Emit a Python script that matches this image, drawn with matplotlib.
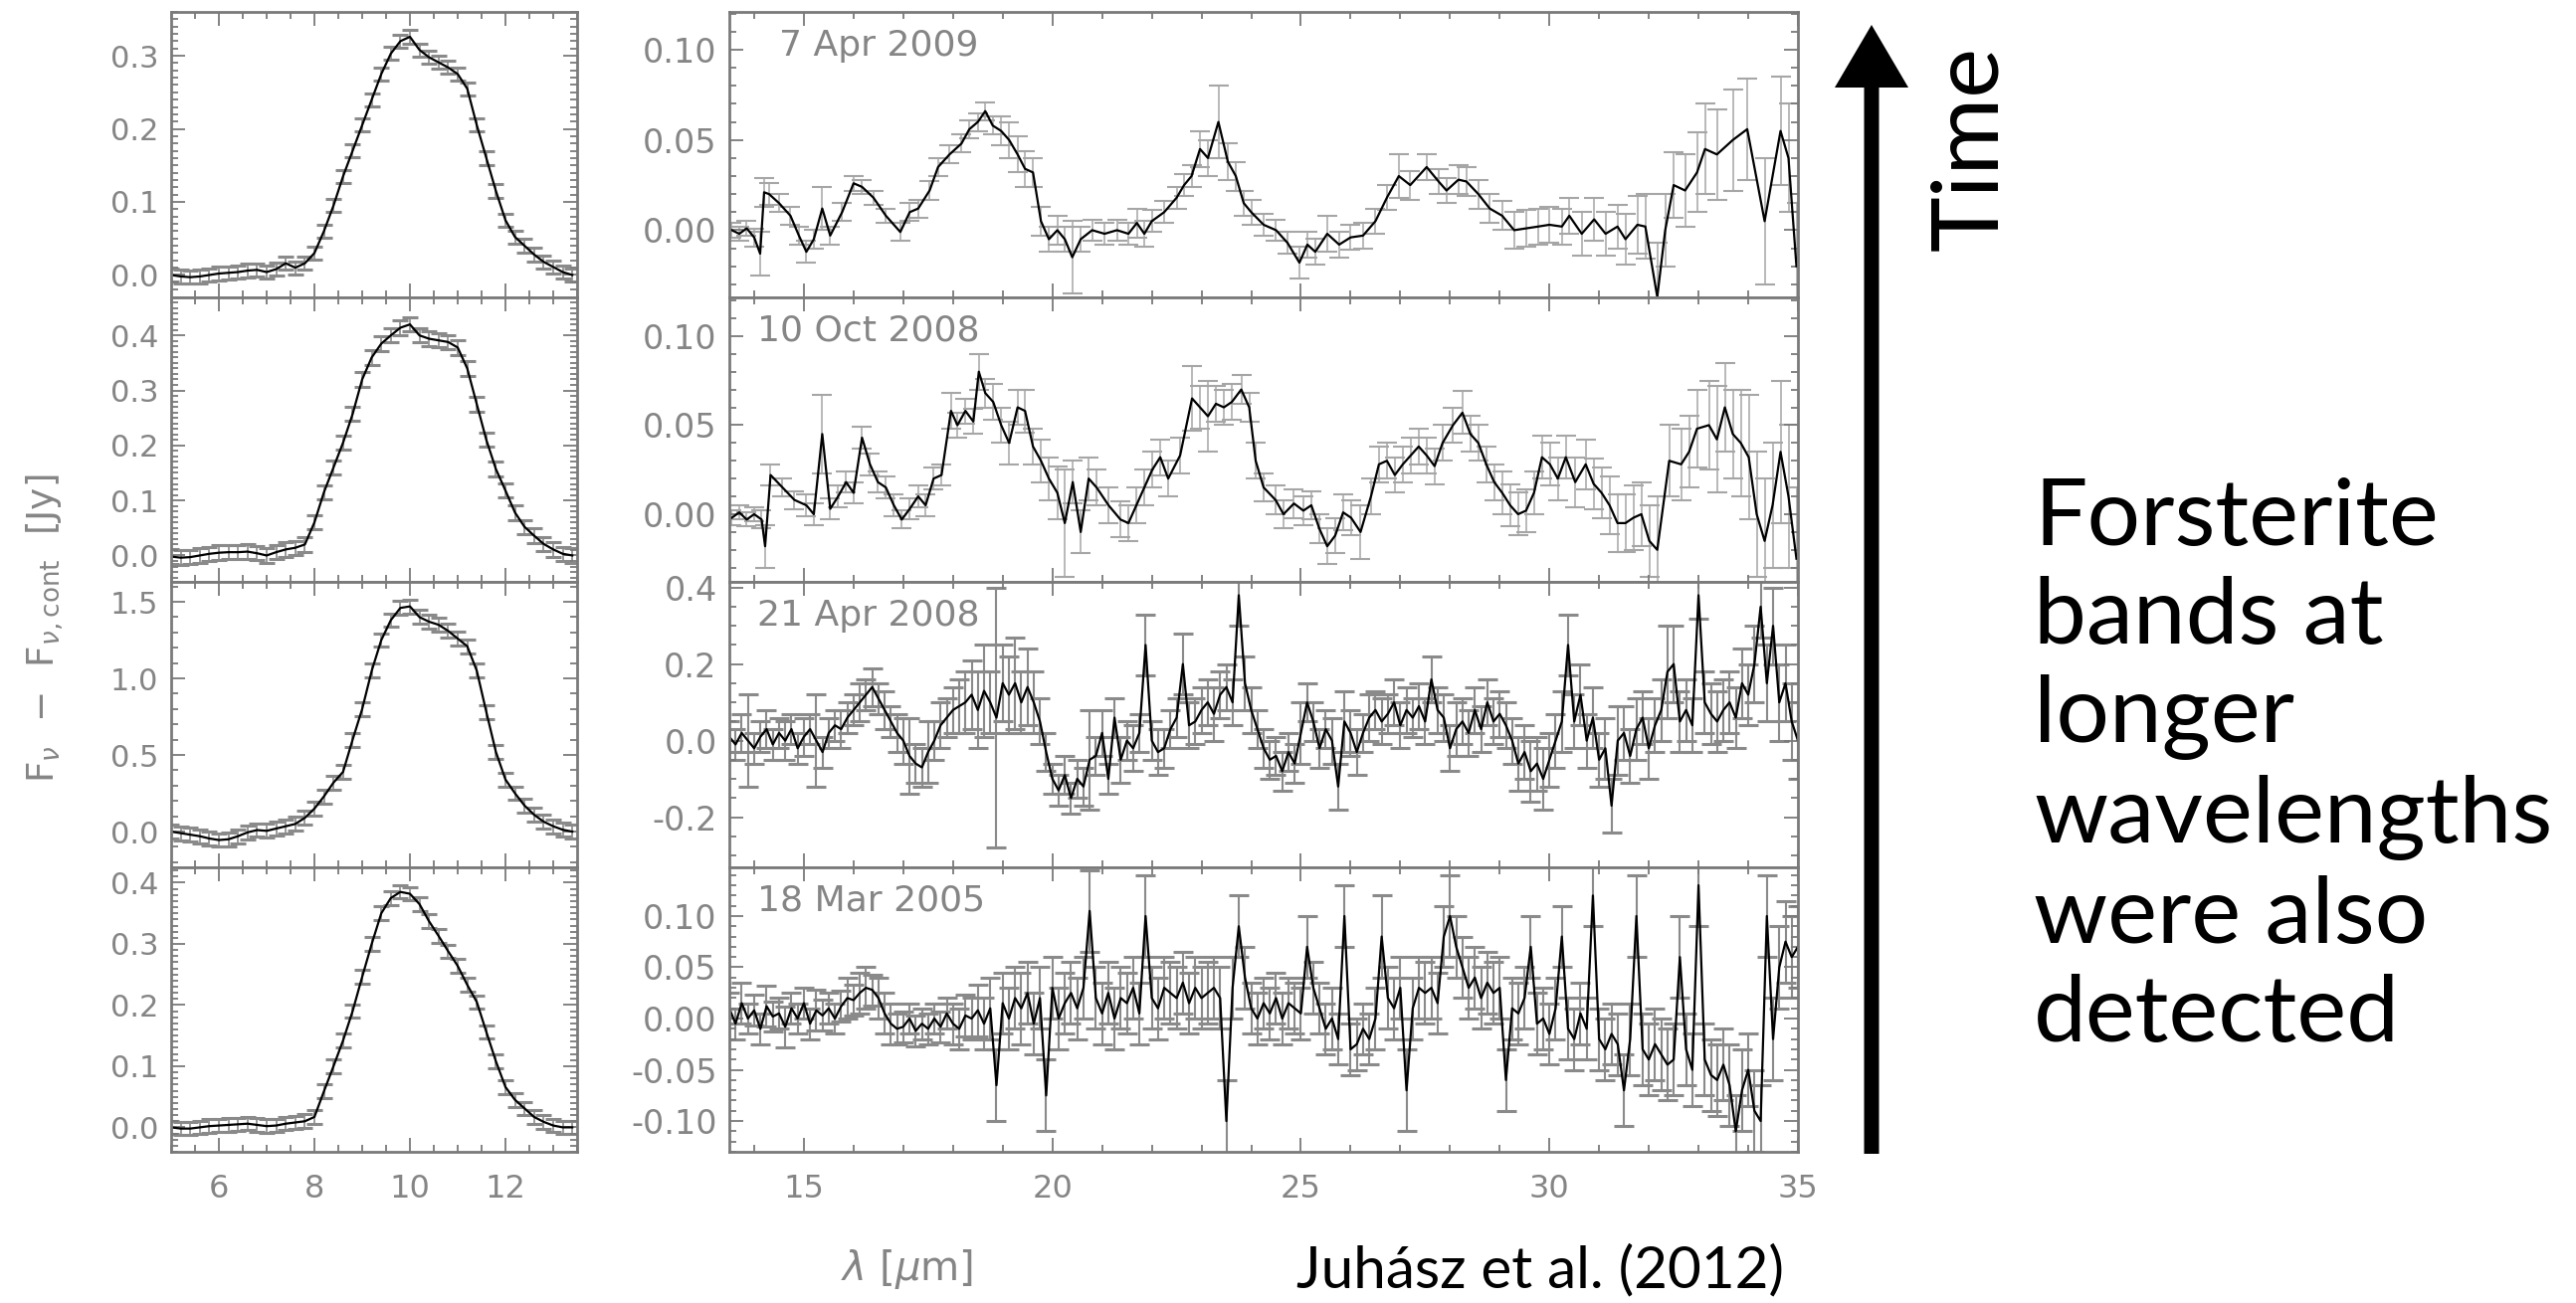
import matplotlib
matplotlib.use('Agg')
import matplotlib.pyplot as plt
import numpy as np
from matplotlib.ticker import MultipleLocator, FormatStrFormatter
from matplotlib.patches import FancyArrow

plt.rcParams['font.family'] = 'DejaVu Sans'
plt.rcParams['mathtext.fontset'] = 'dejavusans'

# ---------------- data ----------------
epochs = ['7 Apr 2009', '10 Oct 2008', '21 Apr 2008', '18 Mar 2005']

# 10 micron feature (left column), sampled every 0.2 um from 5.0 to 13.4
lam_short = np.round(np.arange(5.0, 13.41, 0.2), 1)

flux_short_apr09 = [0.0, -0.002, -0.003, -0.002, 0.0, 0.002, 0.003, 0.004, 0.006, 0.007,
                    0.004, 0.008, 0.016, 0.01, 0.016, 0.03, 0.06, 0.095, 0.135, 0.17,
                    0.205, 0.24, 0.275, 0.303, 0.32, 0.326, 0.308, 0.298, 0.291, 0.284,
                    0.275, 0.255, 0.205, 0.16, 0.115, 0.075, 0.052, 0.04, 0.028, 0.018,
                    0.011, 0.004, 0.0]
flux_short_oct08 = [-0.002, -0.004, -0.003, 0.0, 0.003, 0.005, 0.006, 0.006, 0.007, 0.004,
                    0.0, 0.006, 0.011, 0.014, 0.02, 0.06, 0.115, 0.16, 0.205, 0.257,
                    0.32, 0.36, 0.385, 0.4, 0.414, 0.42, 0.4, 0.394, 0.391, 0.388,
                    0.378, 0.34, 0.275, 0.21, 0.157, 0.118, 0.078, 0.052, 0.036, 0.021,
                    0.011, 0.003, 0.0]
flux_short_apr08 = [0.0, -0.01, -0.02, -0.03, -0.045, -0.055, -0.05, -0.03, -0.005, 0.01,
                    0.005, 0.02, 0.035, 0.05, 0.09, 0.15, 0.23, 0.32, 0.39, 0.6,
                    0.8, 1.05, 1.25, 1.38, 1.46, 1.47, 1.4, 1.37, 1.35, 1.31,
                    1.26, 1.21, 1.05, 0.78, 0.52, 0.34, 0.25, 0.17, 0.11, 0.065,
                    0.035, 0.012, 0.0]
flux_short_mar05 = [0.0, -0.002, -0.002, 0.0, 0.002, 0.003, 0.004, 0.005, 0.006, 0.004,
                    0.002, 0.003, 0.006, 0.008, 0.01, 0.017, 0.059, 0.1, 0.142, 0.19,
                    0.246, 0.3, 0.35, 0.375, 0.385, 0.382, 0.365, 0.337, 0.313, 0.288,
                    0.264, 0.233, 0.205, 0.156, 0.108, 0.066, 0.045, 0.031, 0.017, 0.009,
                    0.003, 0.0, 0.0]
err_short = [0.009, 0.013, 0.045, 0.011]

# long wavelength residuals, 7 Apr 2009
lam_long_apr09 = [13.55, 13.7, 13.85, 14.0, 14.12, 14.2, 14.3, 14.5, 14.73, 14.9,
                  15.05, 15.2, 15.37, 15.53, 15.77, 16.0, 16.17, 16.4, 16.65, 16.94,
                  17.13, 17.3, 17.53, 17.7, 17.93, 18.17, 18.33, 18.5, 18.65, 18.8,
                  18.97, 19.13, 19.3, 19.45, 19.61, 19.77, 19.93, 20.1, 20.25, 20.4,
                  20.57, 20.8, 21.05, 21.3, 21.53, 21.7, 21.85, 22.0, 22.25, 22.5,
                  22.65, 22.8, 22.97, 23.13, 23.34, 23.53, 23.69, 23.85, 24.0, 24.25,
                  24.5, 24.73, 24.97, 25.13, 25.29, 25.53, 25.77, 26.0, 26.25, 26.5,
                  26.73, 26.97, 27.2, 27.53, 27.77, 27.93, 28.17, 28.33, 28.57, 28.8,
                  29.05, 29.29, 29.53, 29.77, 30.0, 30.25, 30.4, 30.65, 30.9, 31.13,
                  31.37, 31.53, 31.77, 31.93, 32.17, 32.33, 32.5, 32.73, 32.97, 33.13,
                  33.37, 33.69, 33.98, 34.33, 34.65, 34.81, 34.97]
flux_long_apr09 = [0.0, -0.002, 0.001, -0.004, -0.013, 0.021, 0.02, 0.015, 0.008, -0.003,
                   -0.012, -0.005, 0.012, -0.003, 0.01, 0.026, 0.024, 0.018, 0.008, -0.001,
                   0.01, 0.012, 0.022, 0.035, 0.042, 0.048, 0.056, 0.06, 0.066, 0.058,
                   0.055, 0.05, 0.042, 0.034, 0.032, 0.005, -0.005, 0.0, -0.005, -0.015,
                   -0.005, 0.0, -0.002, 0.0, -0.002, 0.004, -0.002, 0.005, 0.01, 0.018,
                   0.025, 0.03, 0.045, 0.04, 0.06, 0.038, 0.03, 0.015, 0.01, 0.003,
                   0.0, -0.007, -0.018, -0.008, -0.012, -0.002, -0.008, -0.004, -0.003, 0.005,
                   0.018, 0.03, 0.025, 0.035, 0.027, 0.022, 0.028, 0.027, 0.02, 0.012,
                   0.008, 0.0, 0.001, 0.002, 0.003, 0.002, 0.008, -0.002, 0.006, -0.002,
                   0.002, -0.005, 0.003, 0.002, -0.037, 0.0, 0.025, 0.022, 0.032, 0.045,
                   0.042, 0.05, 0.056, 0.005, 0.055, 0.04, -0.02]
err_long_apr09 = [0.004, 0.004, 0.004, 0.005, 0.012, 0.008, 0.006, 0.005, 0.005, 0.005,
                  0.006, 0.005, 0.012, 0.005, 0.005, 0.004, 0.004, 0.004, 0.004, 0.005,
                  0.005, 0.005, 0.005, 0.005, 0.005, 0.005, 0.005, 0.005, 0.005, 0.005,
                  0.008, 0.01, 0.01, 0.01, 0.008, 0.008, 0.007, 0.008, 0.007, 0.02,
                  0.007, 0.006, 0.006, 0.006, 0.006, 0.008, 0.007, 0.006, 0.006, 0.006,
                  0.006, 0.006, 0.01, 0.01, 0.02, 0.01, 0.008, 0.007, 0.007, 0.006,
                  0.006, 0.006, 0.009, 0.007, 0.007, 0.01, 0.007, 0.007, 0.007, 0.007,
                  0.007, 0.012, 0.008, 0.007, 0.007, 0.007, 0.008, 0.008, 0.008, 0.008,
                  0.008, 0.01, 0.01, 0.01, 0.01, 0.01, 0.01, 0.012, 0.012, 0.012,
                  0.012, 0.014, 0.016, 0.018, 0.03, 0.02, 0.018, 0.02, 0.022, 0.025,
                  0.025, 0.028, 0.028, 0.035, 0.03, 0.03, 0.035]

# long wavelength residuals, 10 Oct 2008
lam_long_oct08 = [13.55, 13.7, 13.85, 14.0, 14.15, 14.22, 14.33, 14.57, 14.81, 15.05,
                  15.2, 15.37, 15.53, 15.69, 15.85, 16.0, 16.17, 16.33, 16.49, 16.65,
                  16.81, 16.97, 17.13, 17.3, 17.45, 17.61, 17.77, 17.96, 18.09, 18.25,
                  18.41, 18.52, 18.65, 18.81, 18.97, 19.13, 19.3, 19.45, 19.61, 19.77,
                  19.93, 20.1, 20.25, 20.41, 20.57, 20.73, 20.89, 21.13, 21.37, 21.53,
                  21.69, 21.85, 22.01, 22.17, 22.33, 22.57, 22.81, 22.97, 23.13, 23.29,
                  23.45, 23.61, 23.8, 23.96, 24.09, 24.25, 24.49, 24.65, 24.86, 25.05,
                  25.21, 25.37, 25.53, 25.69, 25.85, 26.01, 26.2, 26.41, 26.57, 26.73,
                  26.89, 27.05, 27.21, 27.37, 27.53, 27.69, 27.85, 28.06, 28.25, 28.41,
                  28.57, 28.73, 28.89, 29.05, 29.21, 29.37, 29.53, 29.69, 29.85, 30.01,
                  30.17, 30.33, 30.52, 30.73, 30.89, 31.05, 31.21, 31.37, 31.53, 31.69,
                  31.85, 32.01, 32.17, 32.41, 32.65, 32.81, 32.97, 33.21, 33.37, 33.53,
                  33.69, 33.85, 34.01, 34.17, 34.33, 34.49, 34.65, 34.81, 34.97]
flux_long_oct08 = [-0.002, 0.001, -0.003, 0.0, -0.003, -0.018, 0.022, 0.015, 0.008, 0.005,
                   0.0, 0.045, 0.003, 0.01, 0.018, 0.012, 0.043, 0.028, 0.018, 0.015,
                   0.005, -0.003, 0.003, 0.01, 0.005, 0.02, 0.022, 0.058, 0.05, 0.058,
                   0.052, 0.08, 0.068, 0.063, 0.05, 0.04, 0.06, 0.058, 0.038, 0.03,
                   0.02, 0.012, -0.005, 0.018, -0.01, 0.02, 0.015, 0.005, -0.003, -0.005,
                   0.005, 0.015, 0.025, 0.032, 0.02, 0.033, 0.065, 0.06, 0.055, 0.062,
                   0.06, 0.063, 0.07, 0.06, 0.03, 0.015, 0.008, 0.0, 0.006, 0.002,
                   0.005, -0.008, -0.018, -0.012, 0.001, -0.002, -0.01, 0.01, 0.028, 0.03,
                   0.022, 0.028, 0.033, 0.038, 0.033, 0.027, 0.04, 0.05, 0.057, 0.045,
                   0.04, 0.028, 0.018, 0.012, 0.005, 0.0, 0.002, 0.012, 0.032, 0.028,
                   0.02, 0.032, 0.018, 0.028, 0.017, 0.012, 0.005, -0.005, -0.005, -0.002,
                   0.0, -0.015, -0.02, 0.03, 0.028, 0.035, 0.048, 0.05, 0.042, 0.06,
                   0.045, 0.04, 0.032, 0.0, -0.015, 0.005, 0.035, 0.01, -0.025]
err_long_oct08 = [0.004, 0.004, 0.004, 0.004, 0.005, 0.012, 0.006, 0.005, 0.005, 0.006,
                  0.006, 0.022, 0.006, 0.006, 0.006, 0.006, 0.006, 0.006, 0.006, 0.006,
                  0.006, 0.005, 0.006, 0.006, 0.006, 0.006, 0.006, 0.01, 0.007, 0.007,
                  0.007, 0.01, 0.008, 0.01, 0.01, 0.012, 0.01, 0.012, 0.01, 0.012,
                  0.012, 0.015, 0.03, 0.012, 0.012, 0.012, 0.01, 0.01, 0.01, 0.01,
                  0.01, 0.01, 0.01, 0.01, 0.01, 0.01, 0.018, 0.012, 0.02, 0.01,
                  0.01, 0.01, 0.008, 0.008, 0.01, 0.008, 0.008, 0.008, 0.008, 0.008,
                  0.008, 0.008, 0.01, 0.01, 0.01, 0.01, 0.015, 0.01, 0.01, 0.01,
                  0.01, 0.01, 0.01, 0.01, 0.01, 0.01, 0.01, 0.01, 0.012, 0.01,
                  0.01, 0.01, 0.01, 0.012, 0.012, 0.012, 0.012, 0.012, 0.012, 0.012,
                  0.012, 0.012, 0.014, 0.014, 0.014, 0.014, 0.016, 0.016, 0.016, 0.018,
                  0.018, 0.02, 0.03, 0.02, 0.02, 0.02, 0.022, 0.025, 0.03, 0.025,
                  0.025, 0.03, 0.035, 0.035, 0.035, 0.035, 0.04, 0.04, 0.04]

# higher resolution spectra, sampled every 0.125 um from 13.5 to 35
lam_long_hr = np.round(np.arange(13.5, 35.01, 0.125), 3)

flux_long_apr08 = [0.01, -0.01, 0.02, 0.0, -0.02, 0.01, 0.03, -0.01,
                   0.02, 0.0, 0.03, -0.02, 0.01, 0.03, 0.0, -0.03,
                   0.02, 0.04, 0.03, 0.06, 0.08, 0.1, 0.12, 0.14,
                   0.11, 0.08, 0.05, 0.02, 0.0, -0.04, -0.06, -0.07,
                   -0.03, 0.0, 0.04, 0.06, 0.08, 0.09, 0.1, 0.12,
                   0.08, 0.13, 0.1, 0.06, 0.15, 0.12, 0.15, 0.1,
                   0.14, 0.1, 0.05, -0.03, -0.1, -0.13, -0.09, -0.15,
                   -0.1, -0.12, -0.05, -0.04, 0.02, -0.1, 0.06, -0.05,
                   0.0, -0.02, 0.02, 0.25, 0.0, -0.03, -0.02, 0.03,
                   0.06, 0.2, 0.04, 0.05, 0.08, 0.1, 0.07, 0.12,
                   0.14, 0.1, 0.38, 0.15, 0.08, 0.03, -0.02, -0.05,
                   -0.04, -0.08, -0.03, -0.06, 0.02, 0.1, 0.05, -0.02,
                   0.03, 0.0, -0.12, 0.05, 0.02, -0.03, 0.02, 0.06,
                   0.08, 0.05, 0.07, 0.1, 0.04, 0.08, 0.06, 0.09,
                   0.05, 0.16, 0.08, 0.06, -0.02, 0.03, 0.05, 0.02,
                   0.08, 0.03, 0.1, 0.05, 0.07, 0.04, 0.0, -0.06,
                   -0.03, -0.08, -0.06, -0.1, -0.05, 0.0, 0.05, 0.25,
                   0.05, 0.12, 0.0, 0.06, -0.05, -0.02, -0.17, 0.0,
                   0.02, -0.04, 0.03, 0.06, -0.02, 0.04, 0.08, 0.18,
                   0.2, 0.05, 0.08, 0.04, 0.38, 0.1, 0.07, 0.05,
                   0.08, 0.1, 0.06, 0.15, 0.12, 0.2, 0.35, 0.15,
                   0.3, 0.1, 0.15, 0.05, 0.0]
err_long_apr08 = [0.04, 0.04, 0.05, 0.12, 0.04, 0.04, 0.05, 0.04,
                  0.04, 0.05, 0.04, 0.04, 0.05, 0.04, 0.12, 0.04,
                  0.04, 0.04, 0.05, 0.04, 0.04, 0.05, 0.04, 0.05,
                  0.04, 0.05, 0.04, 0.05, 0.06, 0.1, 0.05, 0.05,
                  0.08, 0.05, 0.06, 0.05, 0.06, 0.07, 0.08, 0.09,
                  0.1, 0.12, 0.08, 0.34, 0.1, 0.1, 0.12, 0.08,
                  0.1, 0.08, 0.06, 0.05, 0.04, 0.04, 0.05, 0.04,
                  0.05, 0.05, 0.13, 0.05, 0.06, 0.04, 0.05, 0.06,
                  0.05, 0.06, 0.05, 0.08, 0.05, 0.06, 0.05, 0.05,
                  0.05, 0.08, 0.06, 0.06, 0.06, 0.06, 0.07, 0.06,
                  0.06, 0.06, 0.08, 0.07, 0.06, 0.05, 0.05, 0.05,
                  0.05, 0.05, 0.05, 0.05, 0.08, 0.05, 0.05, 0.05,
                  0.05, 0.06, 0.06, 0.08, 0.06, 0.06, 0.05, 0.06,
                  0.05, 0.06, 0.05, 0.06, 0.06, 0.06, 0.05, 0.06,
                  0.06, 0.06, 0.06, 0.06, 0.06, 0.07, 0.06, 0.06,
                  0.06, 0.06, 0.06, 0.06, 0.06, 0.06, 0.06, 0.07,
                  0.07, 0.08, 0.07, 0.08, 0.07, 0.07, 0.08, 0.08,
                  0.07, 0.08, 0.07, 0.08, 0.07, 0.08, 0.07, 0.09,
                  0.07, 0.07, 0.08, 0.07, 0.08, 0.07, 0.08, 0.12,
                  0.1, 0.08, 0.08, 0.07, 0.06, 0.08, 0.08, 0.08,
                  0.08, 0.08, 0.08, 0.09, 0.08, 0.1, 0.08, 0.1,
                  0.1, 0.1, 0.1, 0.1, 0.1]

flux_long_mar05 = [0.01, -0.005, 0.015, 0.0, 0.008, -0.01, 0.012, 0.002,
                   0.005, -0.008, 0.01, 0.0, 0.015, -0.005, 0.008, 0.003,
                   0.01, 0.0, 0.012, 0.02, 0.018, 0.025, 0.03, 0.028,
                   0.02, 0.005, -0.005, -0.01, -0.008, 0.0, -0.012, -0.005,
                   -0.01, 0.0, -0.008, 0.005, -0.005, -0.01, 0.003, 0.0,
                   0.008, -0.005, 0.01, -0.065, 0.015, 0.0, 0.02, 0.01,
                   0.025, -0.005, 0.02, -0.075, 0.03, 0.0, 0.015, 0.025,
                   0.01, 0.03, 0.105, 0.02, 0.005, 0.025, 0.0, 0.02,
                   0.015, 0.03, 0.005, 0.1, 0.02, 0.01, 0.03, 0.025,
                   0.02, 0.035, 0.015, 0.03, 0.02, 0.025, 0.03, 0.02,
                   -0.1, 0.03, 0.09, 0.04, 0.01, 0.0, 0.015, 0.005,
                   0.02, 0.0, 0.015, 0.01, 0.005, 0.07, 0.03, 0.01,
                   -0.01, 0.0, -0.02, 0.1, -0.03, -0.025, -0.01, -0.02,
                   0.0, 0.08, 0.02, 0.01, 0.03, -0.07, 0.01, 0.03,
                   0.025, 0.03, 0.015, 0.08, 0.1, 0.07, 0.05, 0.03,
                   0.04, 0.02, 0.035, 0.025, 0.03, -0.06, 0.01, 0.005,
                   0.02, 0.07, -0.005, 0.0, -0.015, 0.01, 0.08, -0.01,
                   -0.02, 0.005, -0.01, 0.12, -0.02, -0.03, -0.015, -0.025,
                   -0.07, -0.02, 0.1, -0.03, -0.04, -0.025, -0.035, -0.045,
                   -0.04, 0.06, -0.03, -0.05, 0.13, -0.04, -0.055, -0.06,
                   -0.045, -0.065, -0.11, -0.07, -0.05, -0.09, -0.1, 0.1,
                   -0.02, 0.05, 0.075, 0.06, 0.07]
err_long_mar05 = [0.015, 0.015, 0.02, 0.015, 0.015, 0.015, 0.02, 0.015,
                  0.015, 0.02, 0.015, 0.015, 0.015, 0.015, 0.02, 0.015,
                  0.015, 0.015, 0.015, 0.02, 0.015, 0.02, 0.02, 0.015,
                  0.02, 0.02, 0.02, 0.015, 0.015, 0.015, 0.015, 0.015,
                  0.015, 0.015, 0.015, 0.015, 0.02, 0.02, 0.02, 0.02,
                  0.025, 0.025, 0.03, 0.035, 0.03, 0.03, 0.03, 0.035,
                  0.03, 0.03, 0.03, 0.035, 0.03, 0.03, 0.03, 0.03,
                  0.03, 0.03, 0.04, 0.03, 0.03, 0.03, 0.03, 0.03,
                  0.03, 0.03, 0.03, 0.04, 0.03, 0.03, 0.03, 0.03,
                  0.03, 0.03, 0.03, 0.03, 0.03, 0.03, 0.03, 0.03,
                  0.04, 0.03, 0.03, 0.03, 0.025, 0.025, 0.025, 0.025,
                  0.025, 0.025, 0.025, 0.025, 0.025, 0.03, 0.025, 0.025,
                  0.025, 0.03, 0.025, 0.03, 0.025, 0.025, 0.025, 0.025,
                  0.03, 0.04, 0.03, 0.03, 0.03, 0.04, 0.03, 0.03,
                  0.03, 0.03, 0.03, 0.03, 0.04, 0.03, 0.03, 0.03,
                  0.03, 0.03, 0.03, 0.03, 0.03, 0.03, 0.03, 0.03,
                  0.03, 0.03, 0.03, 0.03, 0.03, 0.03, 0.03, 0.03,
                  0.03, 0.03, 0.03, 0.03, 0.03, 0.03, 0.03, 0.03,
                  0.035, 0.035, 0.04, 0.035, 0.035, 0.035, 0.035, 0.035,
                  0.035, 0.04, 0.035, 0.035, 0.04, 0.035, 0.035, 0.035,
                  0.035, 0.04, 0.035, 0.04, 0.035, 0.04, 0.035, 0.04,
                  0.04, 0.04, 0.04, 0.04, 0.04]

short_flux = [flux_short_apr09, flux_short_oct08, flux_short_apr08, flux_short_mar05]
long_lam = [lam_long_apr09, lam_long_oct08, lam_long_hr, lam_long_hr]
long_flux = [flux_long_apr09, flux_long_oct08, flux_long_apr08, flux_long_mar05]
long_err = [err_long_apr09, err_long_oct08, err_long_apr08, err_long_mar05]

# axis settings per row: (ylim, major, minor, format)
short_axes = [((-0.03, 0.36), 0.1, 0.01, '%.1f'),
              ((-0.048, 0.47), 0.1, 0.01, '%.1f'),
              ((-0.23, 1.63), 0.5, 0.1, '%.1f'),
              ((-0.04, 0.426), 0.1, 0.01, '%.1f')]
long_axes = [((-0.037, 0.121), 0.05, 0.01, '%.2f'),
             ((-0.038, 0.122), 0.05, 0.01, '%.2f'),
             ((-0.33, 0.415), 0.2, 0.05, '%.1f'),
             ((-0.13, 0.148), 0.05, 0.01, '%.2f')]

# ---------------- plotting ----------------
W, H = 2589, 1310
fig = plt.figure(figsize=(W / 100, H / 100), dpi=100)

axis_grey = '#7a7a7a'
label_grey = '#858585'
top_px, panel_h = 12, 286.5


def rect(x0, x1, i):
    y0 = top_px + panel_h * i
    return [x0 / W, 1 - (y0 + panel_h) / H, (x1 - x0) / W, panel_h / H]


def style(ax, ylim, major, minor, fmt, xmaj, xmin, bottom, ysize):
    for s in ax.spines.values():
        s.set_color(axis_grey)
        s.set_linewidth(2)
    ax.set_ylim(*ylim)
    ax.yaxis.set_major_locator(MultipleLocator(major))
    ax.yaxis.set_minor_locator(MultipleLocator(minor))
    ax.yaxis.set_major_formatter(FormatStrFormatter(fmt))
    ax.xaxis.set_major_locator(MultipleLocator(xmaj))
    ax.xaxis.set_minor_locator(MultipleLocator(xmin))
    ax.tick_params(which='both', direction='in', top=True, right=True,
                   color=axis_grey, width=1.3)
    ax.tick_params(which='major', length=10)
    ax.tick_params(which='minor', length=5)
    ax.tick_params(axis='y', labelsize=ysize, labelcolor=label_grey, pad=9)
    ax.tick_params(axis='x', labelsize=23, labelcolor=label_grey, pad=16,
                   labelbottom=bottom)


for i in range(4):
    # left column: 10 micron feature
    ax = fig.add_axes(rect(172, 580, i))
    ax.errorbar(lam_short, short_flux[i], yerr=err_short[i], fmt='none',
                ecolor='#8a8a8a', elinewidth=1.2, capsize=5.5, capthick=2.2, zorder=1)
    ax.plot(lam_short, short_flux[i], color='black', lw=1.6, zorder=2)
    ax.set_xlim(5, 13.5)
    ylim, major, minor, fmt = short_axes[i]
    style(ax, ylim, major, minor, fmt, 2, 0.5, i == 3, 22)

    # right column: long wavelength residuals
    ax = fig.add_axes(rect(733, 1807, i))
    if i < 2:
        ax.errorbar(long_lam[i], long_flux[i], yerr=long_err[i], fmt='none',
                    ecolor='#a6a6a6', elinewidth=1.1, capsize=7, capthick=1.5, zorder=1)
    else:
        ax.errorbar(long_lam[i], long_flux[i], yerr=long_err[i], fmt='none',
                    ecolor='#8a8a8a', elinewidth=1.5, capsize=7, capthick=2.2, zorder=1)
    ax.plot(long_lam[i], long_flux[i], color='black', lw=1.6, zorder=2)
    ax.set_xlim(13.5, 35)
    ylim, major, minor, fmt = long_axes[i]
    style(ax, ylim, major, minor, fmt, 5, 1, i == 3, 24)
    ax.text(0.047 if i == 0 else 0.026, 0.88, epochs[i], transform=ax.transAxes,
            fontsize=26, color=label_grey, ha='left', va='center')

# overlay in pixel coordinates for labels and the arrow
ov = fig.add_axes([0, 0, 1, 1])
ov.set_xlim(0, W)
ov.set_ylim(H, 0)
ov.set_axis_off()

ov.text(45, 632, r'F$_\nu$  $-$  F$_{\nu,\rm cont}$  [Jy]', rotation=90,
        fontsize=27, color=label_grey, ha='center', va='center')
ov.text(912, 1276, r'$\lambda$ [$\mu$m]', fontsize=29, color=label_grey,
        ha='center', va='center')
ov.text(1548, 1278, 'Juhász et al. (2012)', fontsize=42, family='Lato',
        color='black', ha='center', va='center')

ov.add_patch(FancyArrow(1881, 1160, 0, -(1160 - 25), width=15, head_width=74,
                        head_length=63, length_includes_head=True,
                        color='black', lw=0))
ov.text(1981, 149, 'Time', rotation=90, fontsize=68, family='Lato',
        color='black', ha='center', va='center')
ov.text(2044, 480, 'Forsterite\nbands at\nlonger\nwavelengths\nwere also\ndetected',
        fontsize=68, family='Lato', color='black', ha='left', va='top',
        linespacing=1.22)

fig.savefig('out.png', dpi=100)
